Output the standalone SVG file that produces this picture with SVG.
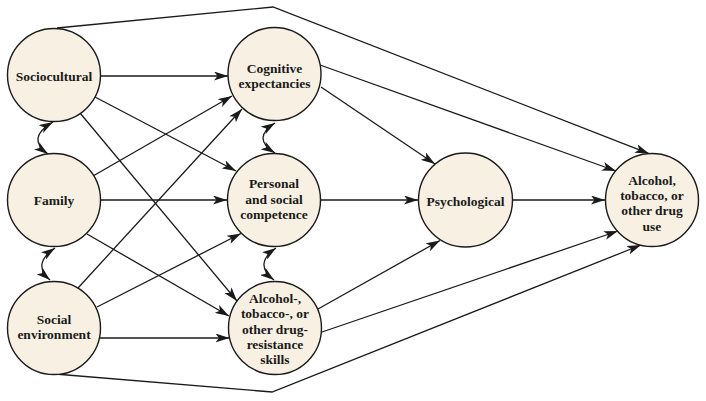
<svg xmlns="http://www.w3.org/2000/svg" width="706" height="401" viewBox="0 0 706 401">
<style>
.node circle{fill:#f8f1e3;stroke:#1a1a1a;stroke-width:1.4}
.node text{font-family:"Liberation Serif","Times New Roman",serif;font-weight:bold;font-size:13.5px;fill:#1a1a1a;text-anchor:middle}
.conn path,.conn line,.conn polyline{fill:none;stroke:#1a1a1a;stroke-width:1.3}
.arr{marker-end:url(#ah)}
.bi{marker-start:url(#ah);marker-end:url(#ah)}
</style>
<defs>
<marker id="ah" viewBox="0 0 14 9" refX="14" refY="4.5" markerWidth="14" markerHeight="9" markerUnits="userSpaceOnUse" orient="auto-start-reverse">
<path d="M0,0 L14,4.5 L0,9 L3.5,4.5 z" fill="#1a1a1a"/>
</marker>
</defs>
<rect width="706" height="401" fill="#ffffff"/>
<g class="conn">
<polyline class="arr" points="57,28 273,7 649,153.6"/>
<polyline class="arr" points="55,374 272,392 641,245"/>
<line class="arr" x1="100" y1="76" x2="228" y2="76"/>
<line class="arr" x1="95" y1="97" x2="236" y2="171"/>
<line class="arr" x1="80" y1="113" x2="237" y2="301"/>
<line class="arr" x1="93" y1="176" x2="232" y2="96"/>
<line class="arr" x1="100" y1="200" x2="227" y2="200"/>
<line class="arr" x1="87" y1="234" x2="229" y2="316"/>
<line class="arr" x1="78" y1="288" x2="242" y2="109"/>
<line class="arr" x1="97" y1="307" x2="241" y2="233.5"/>
<line class="arr" x1="100" y1="338" x2="229.5" y2="338"/>
<line class="arr" x1="321" y1="87" x2="435" y2="164"/>
<line class="arr" x1="320" y1="65" x2="616" y2="171"/>
<line class="arr" x1="321" y1="200" x2="418" y2="200"/>
<line class="arr" x1="513" y1="200" x2="605" y2="200"/>
<line class="arr" x1="318" y1="309" x2="440" y2="240.5"/>
<line class="arr" x1="322" y1="332" x2="618" y2="231"/>
<path class="bi" d="M53,122 Q25.5,138 48,154"/>
<path class="bi" d="M55,248 Q31.5,264 50,280"/>
<path class="bi" d="M275,123 Q251,138 275,153"/>
<path class="bi" d="M276,248 Q253,264 274,280"/>
</g>
<g id="sociocultural" class="node"><circle cx="54" cy="75" r="46.5"/><text x="54" y="81">Sociocultural</text></g>
<g id="family" class="node"><circle cx="54" cy="200" r="46.5"/><text x="54" y="205">Family</text></g>
<g id="social-environment" class="node"><circle cx="54" cy="328" r="46.5"/><text x="54" y="324">Social</text><text x="54" y="339">environment</text></g>
<g id="cognitive-expectancies" class="node"><circle cx="274.5" cy="74" r="46.5"/><text x="274.5" y="73">Cognitive</text><text x="274.5" y="88">expectancies</text></g>
<g id="personal-social-competence" class="node"><circle cx="274" cy="200" r="46.5"/><text x="274" y="188">Personal</text><text x="274" y="204">and social</text><text x="274" y="219">competence</text></g>
<g id="resistance-skills" class="node"><circle cx="275" cy="328" r="46.5"/><text x="275" y="303">Alcohol-,</text><text x="275" y="318">tobacco-, or</text><text x="275" y="333.5">other drug-</text><text x="275" y="349">resistance</text><text x="275" y="364">skills</text></g>
<g id="psychological" class="node"><circle cx="465.5" cy="200" r="47"/><text x="465.5" y="206">Psychological</text></g>
<g id="drug-use" class="node"><circle cx="652" cy="200" r="46.5"/><text x="652" y="185">Alcohol,</text><text x="652" y="200">tobacco, or</text><text x="652" y="215">other drug</text><text x="652" y="230.5">use</text></g>
</svg>
